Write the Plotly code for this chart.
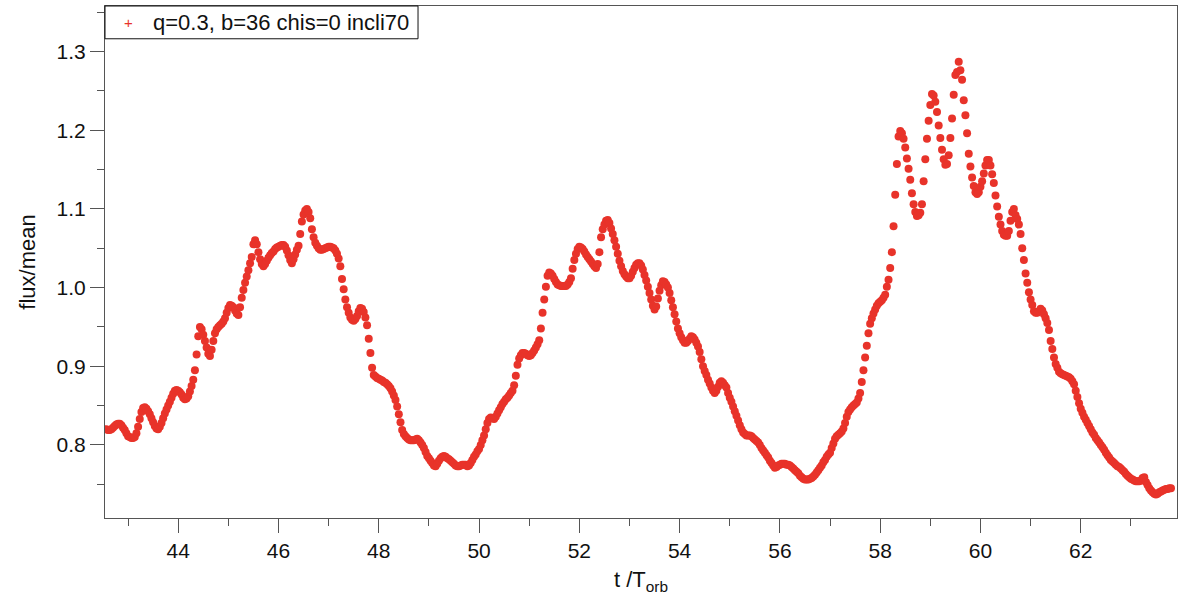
import numpy as np
import plotly.graph_objects as go

# Light-curve samples: regular output cadence of 1/30 orbit starting at t0
T0 = 42.0 + 17.0 / 30.0
DT = 1.0 / 30.0

flux_42 = [0.820, 0.819, 0.819, 0.820, 0.822, 0.824, 0.826, 0.827, 0.827, 0.825, 0.822, 0.819, 0.815]
flux_43 = [0.811, 0.810, 0.809, 0.809, 0.810, 0.815, 0.823, 0.833, 0.842, 0.847, 0.848, 0.846, 0.843, 0.839, 0.834,
           0.829, 0.824, 0.821, 0.820, 0.823, 0.828, 0.834, 0.840, 0.845, 0.850, 0.855, 0.860, 0.865, 0.869, 0.870]
flux_44 = [0.869, 0.867, 0.864, 0.860, 0.858, 0.859, 0.862, 0.868, 0.875, 0.883, 0.895, 0.915, 0.938, 0.950, 0.947,
           0.940, 0.932, 0.924, 0.916, 0.913, 0.921, 0.932, 0.942, 0.947, 0.950, 0.952, 0.954, 0.957, 0.961, 0.968]
flux_45 = [0.974, 0.978, 0.977, 0.975, 0.971, 0.967, 0.965, 0.975, 0.987, 0.997, 1.006, 1.014, 1.022, 1.031, 1.039,
           1.055, 1.060, 1.055, 1.045, 1.036, 1.030, 1.027, 1.030, 1.034, 1.038, 1.041, 1.044, 1.046, 1.049, 1.051]
flux_46 = [1.052, 1.053, 1.054, 1.054, 1.052, 1.047, 1.041, 1.035, 1.031, 1.036, 1.042, 1.048, 1.053, 1.068, 1.084,
           1.093, 1.098, 1.100, 1.096, 1.088, 1.074, 1.064, 1.057, 1.053, 1.050, 1.048, 1.048, 1.049, 1.050, 1.051]
flux_47 = [1.052, 1.052, 1.051, 1.050, 1.047, 1.043, 1.037, 1.027, 1.011, 0.998, 0.985, 0.975, 0.968, 0.962, 0.959,
           0.958, 0.960, 0.964, 0.970, 0.974, 0.973, 0.969, 0.962, 0.952, 0.935, 0.917, 0.898, 0.889, 0.887, 0.885]
flux_48 = [0.884, 0.883, 0.882, 0.880, 0.879, 0.877, 0.875, 0.872, 0.868, 0.863, 0.857, 0.849, 0.839, 0.829, 0.819,
           0.814, 0.811, 0.809, 0.807, 0.806, 0.806, 0.806, 0.807, 0.808, 0.806, 0.803, 0.800, 0.796, 0.791, 0.786]
flux_49 = [0.783, 0.780, 0.777, 0.774, 0.773, 0.776, 0.780, 0.783, 0.785, 0.786, 0.785, 0.783, 0.782, 0.780, 0.778,
           0.776, 0.774, 0.773, 0.773, 0.774, 0.775, 0.775, 0.775, 0.773, 0.774, 0.777, 0.781, 0.785, 0.788, 0.792]
flux_50 = [0.795, 0.800, 0.806, 0.812, 0.820, 0.828, 0.833, 0.835, 0.834, 0.833, 0.836, 0.840, 0.844, 0.848, 0.852,
           0.855, 0.858, 0.860, 0.863, 0.866, 0.869, 0.876, 0.888, 0.902, 0.910, 0.914, 0.917, 0.917, 0.916, 0.914]
flux_51 = [0.913, 0.914, 0.917, 0.920, 0.924, 0.928, 0.933, 0.948, 0.968, 0.985, 1.001, 1.015, 1.019, 1.018, 1.015,
           1.011, 1.007, 1.004, 1.003, 1.002, 1.002, 1.002, 1.002, 1.004, 1.007, 1.012, 1.024, 1.035, 1.043, 1.049]
flux_52 = [1.052, 1.051, 1.049, 1.046, 1.042, 1.039, 1.036, 1.033, 1.030, 1.027, 1.025, 1.030, 1.045, 1.064, 1.074,
           1.080, 1.085, 1.086, 1.082, 1.075, 1.068, 1.060, 1.052, 1.043, 1.034, 1.027, 1.021, 1.017, 1.014, 1.012]
flux_53 = [1.012, 1.015, 1.020, 1.025, 1.029, 1.031, 1.031, 1.028, 1.023, 1.016, 1.009, 1.001, 0.993, 0.985, 0.977,
           0.972, 0.976, 0.986, 0.996, 1.003, 1.008, 1.007, 1.004, 1.000, 0.993, 0.984, 0.975, 0.966, 0.957, 0.948]
flux_54 = [0.942, 0.937, 0.933, 0.930, 0.930, 0.932, 0.935, 0.938, 0.937, 0.934, 0.930, 0.925, 0.918, 0.909, 0.900,
           0.894, 0.889, 0.883, 0.878, 0.873, 0.869, 0.866, 0.869, 0.874, 0.879, 0.881, 0.879, 0.876, 0.873, 0.866]
flux_55 = [0.860, 0.855, 0.849, 0.843, 0.837, 0.831, 0.825, 0.820, 0.816, 0.814, 0.812, 0.812, 0.812, 0.811, 0.809,
           0.807, 0.805, 0.803, 0.800, 0.796, 0.793, 0.790, 0.787, 0.784, 0.780, 0.777, 0.774, 0.771, 0.772, 0.774]
flux_56 = [0.775, 0.776, 0.776, 0.776, 0.775, 0.775, 0.774, 0.772, 0.770, 0.768, 0.766, 0.764, 0.761, 0.759, 0.757,
           0.756, 0.756, 0.756, 0.757, 0.758, 0.760, 0.762, 0.765, 0.768, 0.771, 0.774, 0.778, 0.781, 0.785, 0.788]
flux_57 = [0.790, 0.796, 0.802, 0.808, 0.811, 0.813, 0.815, 0.817, 0.821, 0.828, 0.836, 0.842, 0.845, 0.848, 0.850,
           0.852, 0.854, 0.859, 0.866, 0.880, 0.895, 0.911, 0.926, 0.942, 0.954, 0.961, 0.967, 0.972, 0.977, 0.980]
flux_58 = [0.982, 0.984, 0.987, 0.991, 1.001, 1.010, 1.025, 1.045, 1.078, 1.118, 1.157, 1.192, 1.199, 1.196, 1.189,
           1.178, 1.164, 1.151, 1.137, 1.120, 1.106, 1.096, 1.091, 1.092, 1.095, 1.106, 1.135, 1.163, 1.189, 1.212]
flux_59 = [1.232, 1.246, 1.244, 1.236, 1.223, 1.206, 1.190, 1.175, 1.163, 1.156, 1.157, 1.168, 1.190, 1.215, 1.245,
           1.270, 1.274, 1.287, 1.276, 1.264, 1.238, 1.219, 1.196, 1.170, 1.154, 1.140, 1.129, 1.121, 1.119, 1.121]
flux_60 = [1.128, 1.135, 1.145, 1.155, 1.162, 1.162, 1.155, 1.144, 1.133, 1.117, 1.103, 1.090, 1.080, 1.072, 1.067,
           1.066, 1.066, 1.072, 1.085, 1.096, 1.100, 1.092, 1.087, 1.080, 1.068, 1.050, 1.035, 1.018, 1.006, 0.994]
flux_61 = [0.985, 0.978, 0.970, 0.968, 0.968, 0.970, 0.973, 0.971, 0.966, 0.961, 0.955, 0.946, 0.932, 0.922, 0.911,
           0.903, 0.898, 0.893, 0.891, 0.890, 0.889, 0.888, 0.887, 0.886, 0.884, 0.881, 0.877, 0.869, 0.861, 0.853]
flux_62 = [0.846, 0.841, 0.836, 0.832, 0.828, 0.824, 0.820, 0.816, 0.813, 0.809, 0.806, 0.803, 0.800, 0.797, 0.794,
           0.790, 0.787, 0.784, 0.781, 0.779, 0.777, 0.775, 0.773, 0.772, 0.770, 0.768, 0.766, 0.763, 0.761, 0.759]
flux_63 = [0.757, 0.756, 0.755, 0.754, 0.754, 0.754, 0.755, 0.758, 0.759, 0.753, 0.749, 0.745, 0.742, 0.740, 0.738,
           0.737, 0.738, 0.740, 0.741, 0.742, 0.743, 0.744, 0.744, 0.745, 0.745]

flux = (flux_42 + flux_43 + flux_44 + flux_45 + flux_46 + flux_47 + flux_48 + flux_49 + flux_50 + flux_51
        + flux_52 + flux_53 + flux_54 + flux_55 + flux_56 + flux_57 + flux_58 + flux_59 + flux_60 + flux_61
        + flux_62 + flux_63)
t = T0 + DT * np.arange(len(flux))

series_name = "q=0.3, b=36 chis=0 incli70"
RED = "#e8332a"
AXIS = "#555555"
INK = "#111111"
FONT = "Liberation Sans, Arial, Helvetica, sans-serif"

fig = go.Figure()

# data points
fig.add_trace(go.Scatter(
    x=t, y=flux, mode="markers",
    marker=dict(symbol="circle", size=8, color=RED, line=dict(width=0)),
    showlegend=False, hoverinfo="x+y",
))

axis_common = dict(
    showline=True, linecolor=AXIS, linewidth=1, mirror=True,
    ticks="outside", ticklen=14, tickwidth=1, tickcolor=AXIS,
    showgrid=False, zeroline=False,
    tickfont=dict(family=FONT, size=21, color=INK),
)

fig.update_xaxes(
    range=[42.54, 63.92], dtick=2, tick0=0,
    minor=dict(dtick=1, ticks="outside", ticklen=7, tickcolor=AXIS, tickwidth=1, showgrid=False),
    title=dict(text="t /T<sub>orb</sub>", font=dict(family=FONT, size=22, color=INK), standoff=12),
    **axis_common,
)
fig.update_yaxes(
    range=[0.7072, 1.3578], dtick=0.1, tick0=0, tickformat=".1f",
    minor=dict(dtick=0.05, ticks="outside", ticklen=7, tickcolor=AXIS, tickwidth=1, showgrid=False),
    title=dict(text="flux/mean", font=dict(family=FONT, size=22, color=INK), standoff=14),
    **axis_common,
)

# compact legend box in the upper-left corner of the plot area
LEG_RIGHT = 0.292
LEG_BOTTOM = 0.936
fig.add_shape(
    type="rect", xref="paper", yref="paper",
    x0=0, x1=LEG_RIGHT, y0=LEG_BOTTOM, y1=1,
    line=dict(color=INK, width=1), fillcolor="white", layer="above",
)
fig.add_annotation(
    xref="paper", yref="paper", x=0.0215, y=(1 + LEG_BOTTOM) / 2,
    text="+", showarrow=False, xanchor="center", yanchor="middle",
    font=dict(family=FONT, size=15, color=RED),
)
fig.add_annotation(
    xref="paper", yref="paper", x=0.043, y=(1 + LEG_BOTTOM) / 2,
    text=series_name, showarrow=False, xanchor="left", yanchor="middle",
    font=dict(family=FONT, size=22, color=INK),
)

fig.update_layout(
    width=1189, height=595,
    margin=dict(l=105, r=12, t=5, b=76),
    paper_bgcolor="white", plot_bgcolor="white",
    font=dict(family=FONT, color=INK),
    showlegend=False,
)

fig.write_html("out.html")
